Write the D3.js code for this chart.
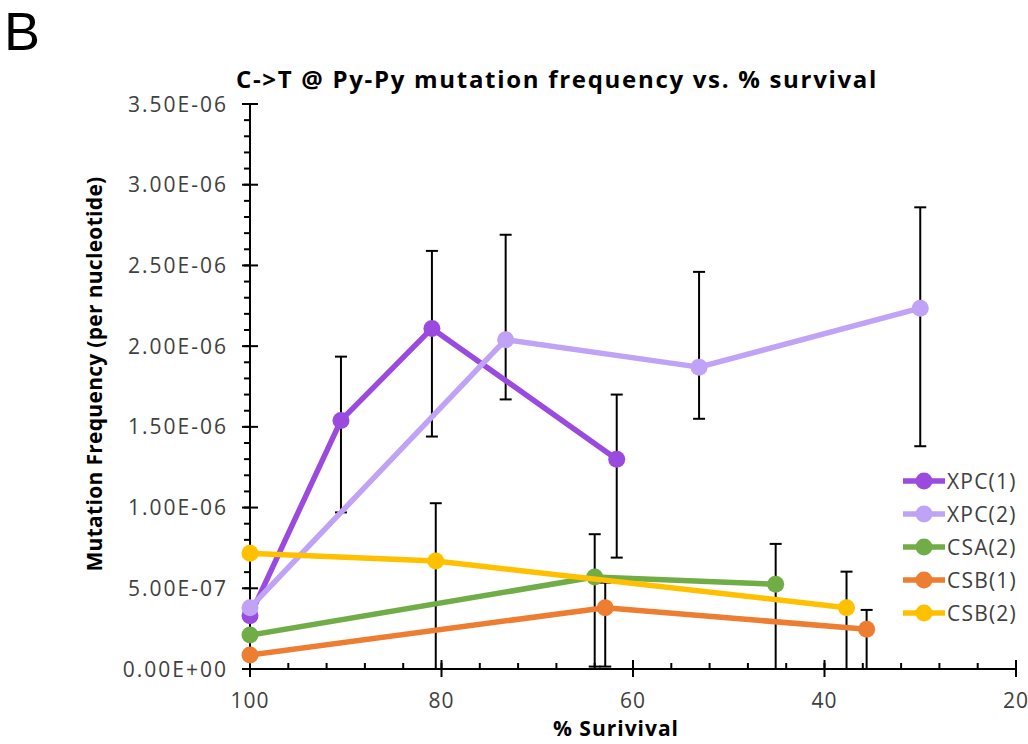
<!DOCTYPE html>
<html lang="en">
<head>
  <meta charset="UTF-8">
  <title>C->T @ Py-Py mutation frequency vs. % survival</title>
  <script src="https://d3js.org/d3.v7.min.js"></script>
  <style>
    body {
      margin: 0;
      background: #fff;
    }
    svg {
      display: block;
      font-family: "Open Sans", sans-serif;
    }
  </style>
</head>
<body>
  <svg id="chart"></svg>

  <script>
    const width = 1028, height = 744;

    // series (x = % survival, y = mutations per nucleotide)
    const seriesNames = ["XPC(1)", "XPC(2)", "CSA(2)", "CSB(1)", "CSB(2)"];
    const seriesColors = ["#9b4ae0", "#c0a2f6", "#70ad47", "#ed7d31", "#ffc000"];

    const xpc1X = [100, 90.5, 81.0, 61.7];
    const xpc1Y = [0.33e-6, 1.54e-6, 2.11e-6, 1.30e-6];
    const xpc1Hi = [null, 1.935e-6, 2.59e-6, 1.70e-6];
    const xpc1Lo = [null, 0.97e-6, 1.44e-6, 0.69e-6];

    const xpc2X = [100, 73.3, 53.1, 30.0];
    const xpc2Y = [0.38e-6, 2.04e-6, 1.87e-6, 2.235e-6];
    const xpc2Hi = [null, 2.69e-6, 2.46e-6, 2.86e-6];
    const xpc2Lo = [null, 1.67e-6, 1.55e-6, 1.38e-6];

    const csa2X = [100, 64.0, 45.1];
    const csa2Y = [0.21e-6, 0.57e-6, 0.525e-6];
    const csa2Hi = [null, 0.835e-6, 0.775e-6];
    const csa2Lo = [null, 0.015e-6, 0];

    const csb1X = [100, 62.9, 35.6];
    const csb1Y = [0.087e-6, 0.38e-6, 0.246e-6];
    const csb1Hi = [null, 0.535e-6, 0.366e-6];
    const csb1Lo = [null, 0.015e-6, 0];

    const csb2X = [100, 80.6, 37.7];
    const csb2Y = [0.717e-6, 0.669e-6, 0.38e-6];
    const csb2Hi = [null, 1.027e-6, 0.603e-6];
    const csb2Lo = [null, 0, 0];

    const xTicks = [100, 80, 60, 40, 20];
    const yTicks = [0, 0.5e-6, 1.0e-6, 1.5e-6, 2.0e-6, 2.5e-6, 3.0e-6, 3.5e-6];

    const series = [
      [xpc1X, xpc1Y, xpc1Hi, xpc1Lo],
      [xpc2X, xpc2Y, xpc2Hi, xpc2Lo],
      [csa2X, csa2Y, csa2Hi, csa2Lo],
      [csb1X, csb1Y, csb1Hi, csb1Lo],
      [csb2X, csb2Y, csb2Hi, csb2Lo]
    ].map(([xs, ys, his, los], i) => ({
      name: seriesNames[i],
      color: seriesColors[i],
      points: xs.map((x, j) => ({ x, y: ys[j], hi: his[j], lo: los[j] }))
    }));

    const plot = { left: 250, right: 1016, top: 104, bottom: 669 };

    const x = d3.scaleLinear().domain([100, 20]).range([plot.left, plot.right]);
    const y = d3.scaleLinear().domain([0, 3.5e-6]).range([plot.bottom, plot.top]);

    const svg = d3.select("#chart")
      .attr("width", width)
      .attr("height", height);

    // panel letter
    svg.append("text")
      .attr("x", 4)
      .attr("y", 50)
      .attr("font-family", "Liberation Sans, Arial, sans-serif")
      .attr("font-size", 54)
      .attr("fill", "#000")
      .text("B");

    // title
    svg.append("text")
      .attr("x", 557)
      .attr("y", 88)
      .attr("text-anchor", "middle")
      .attr("font-weight", "bold")
      .attr("font-size", 24)
      .attr("letter-spacing", 1.7)
      .attr("fill", "#000")
      .text("C->T @ Py-Py mutation frequency vs. % survival");

    // axes
    const axisColor = "#000";
    const yMinor = d3.range(0, 3.5e-6 + 1e-12, 0.1e-6);
    const xMinor = d3.range(100, 19.9, -4);

    const yAxis = svg.append("g").attr("stroke", axisColor).attr("stroke-width", 2);
    yAxis.append("line")
      .attr("x1", plot.left).attr("x2", plot.left)
      .attr("y1", plot.top).attr("y2", plot.bottom + 8);
    yAxis.selectAll(".minor").data(yMinor).join("line")
      .attr("class", "minor")
      .attr("x1", plot.left - 6).attr("x2", plot.left)
      .attr("y1", d => y(d)).attr("y2", d => y(d));
    yAxis.selectAll(".major").data(yTicks).join("line")
      .attr("class", "major")
      .attr("x1", plot.left - 8).attr("x2", plot.left + 8)
      .attr("y1", d => y(d)).attr("y2", d => y(d));

    const xAxis = svg.append("g").attr("stroke", axisColor).attr("stroke-width", 2);
    xAxis.append("line")
      .attr("x1", plot.left).attr("x2", plot.right)
      .attr("y1", plot.bottom).attr("y2", plot.bottom);
    xAxis.selectAll(".minor").data(xMinor).join("line")
      .attr("class", "minor")
      .attr("x1", d => x(d)).attr("x2", d => x(d))
      .attr("y1", plot.bottom - 6).attr("y2", plot.bottom);
    xAxis.selectAll(".major").data(xTicks).join("line")
      .attr("class", "major")
      .attr("x1", d => x(d)).attr("x2", d => x(d))
      .attr("y1", plot.bottom - 9).attr("y2", plot.bottom + 8);

    const fmtY = d => {
      if (d === 0) return "0.00E+00";
      const e = Math.floor(Math.log10(d) + 1e-9);
      const m = d / Math.pow(10, e);
      return m.toFixed(2) + "E-" + String(-e).padStart(2, "0");
    };

    svg.append("g").selectAll("text").data(yTicks).join("text")
      .attr("x", 228)
      .attr("y", d => y(d))
      .attr("dy", "0.36em")
      .attr("text-anchor", "end")
      .attr("font-size", 21)
      .attr("letter-spacing", 2)
      .attr("fill", "#404040")
      .text(fmtY);

    svg.append("g").selectAll("text").data(xTicks).join("text")
      .attr("x", d => x(d))
      .attr("y", 708)
      .attr("text-anchor", "middle")
      .attr("font-size", 21)
      .attr("letter-spacing", 1)
      .attr("fill", "#404040")
      .text(d => d);

    svg.append("text")
      .attr("transform", "translate(102,374) rotate(-90)")
      .attr("text-anchor", "middle")
      .attr("font-weight", "bold")
      .attr("font-size", 21)
      .attr("letter-spacing", 0.3)
      .attr("fill", "#000")
      .text("Mutation Frequency (per nucleotide)");

    svg.append("text")
      .attr("x", 616)
      .attr("y", 736)
      .attr("text-anchor", "middle")
      .attr("font-weight", "bold")
      .attr("font-size", 21)
      .attr("letter-spacing", 1)
      .attr("fill", "#000")
      .text("% Surivival");

    // error bars (drawn under the series)
    const errs = series.flatMap(s => s.points.filter(p => p.hi !== null));
    const eb = svg.append("g").attr("stroke", "#000").attr("stroke-width", 2);
    eb.selectAll(".stem").data(errs).join("line")
      .attr("x1", d => x(d.x)).attr("x2", d => x(d.x))
      .attr("y1", d => y(d.hi)).attr("y2", d => y(d.lo));
    eb.selectAll(".capHi").data(errs).join("line")
      .attr("x1", d => x(d.x) - 6).attr("x2", d => x(d.x) + 6)
      .attr("y1", d => y(d.hi)).attr("y2", d => y(d.hi));
    eb.selectAll(".capLo").data(errs.filter(d => d.lo > 0)).join("line")
      .attr("x1", d => x(d.x) - 6).attr("x2", d => x(d.x) + 6)
      .attr("y1", d => y(d.lo)).attr("y2", d => y(d.lo));

    const line = d3.line().x(d => x(d.x)).y(d => y(d.y));

    const sg = svg.append("g").selectAll("g").data(series).join("g");
    sg.append("path")
      .attr("d", d => line(d.points))
      .attr("fill", "none")
      .attr("stroke", d => d.color)
      .attr("stroke-width", 5.5)
      .attr("stroke-linejoin", "round");
    sg.selectAll("circle").data(d => d.points.map(p => ({ ...p, color: d.color }))).join("circle")
      .attr("cx", d => x(d.x))
      .attr("cy", d => y(d.y))
      .attr("r", 8.5)
      .attr("fill", d => d.color);

    // legend
    const legend = svg.append("g").selectAll("g").data(series).join("g")
      .attr("transform", (d, i) => `translate(903,${481 + i * 33})`);
    legend.append("line")
      .attr("x1", 0).attr("x2", 42)
      .attr("stroke", d => d.color)
      .attr("stroke-width", 5.5);
    legend.append("circle")
      .attr("cx", 21)
      .attr("r", 8.5)
      .attr("fill", d => d.color);
    legend.append("text")
      .attr("x", 44)
      .attr("dy", "0.36em")
      .attr("font-size", 21)
      .attr("letter-spacing", 1.2)
      .attr("fill", "#404040")
      .text(d => d.name);
  </script>
</body>
</html>
